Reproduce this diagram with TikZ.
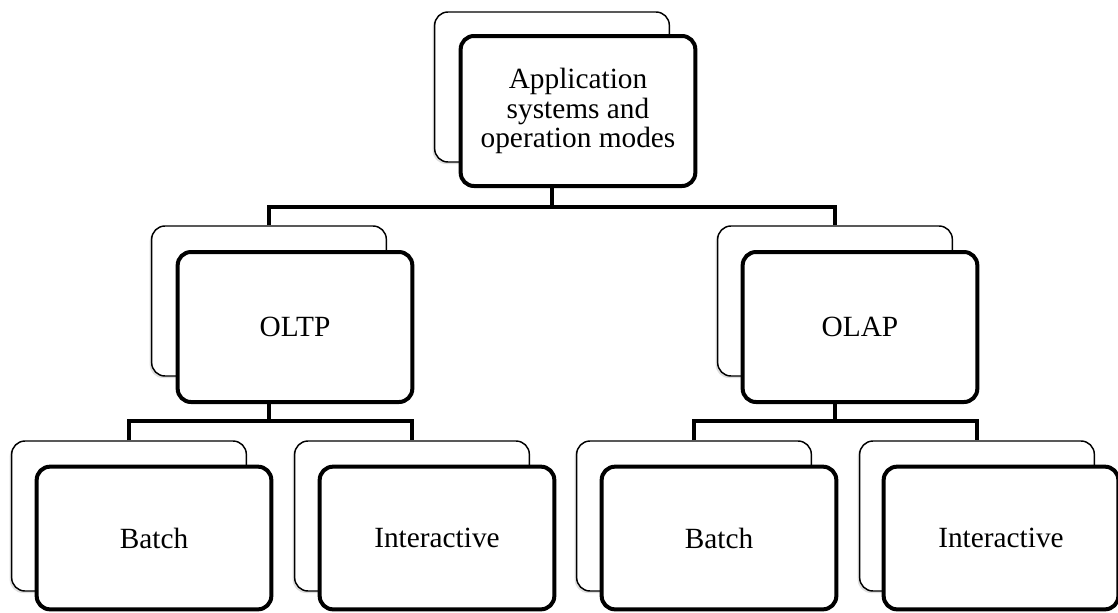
\documentclass[tikz,border=0pt]{standalone}
\usepackage{fontspec}
\setmainfont{Liberation Serif}
\usetikzlibrary{shadows}

\tikzset{
  backbox/.style={draw, line width=1.1pt, rounded corners=10pt, fill=white,
    minimum width=176pt, minimum height=112.5pt,
    drop shadow={shadow xshift=-1.5pt, shadow yshift=-1.5pt, opacity=.25}},
  frontbox/.style={draw, line width=3pt, rounded corners=10pt, fill=white,
    minimum width=176pt, minimum height=112.5pt, align=center,
    font=\fontsize{22}{22}\selectfont},
  leafbox/.style={frontbox, minimum height=107pt},
  link/.style={line width=3pt}
}

\begin{document}
\begin{tikzpicture}[x=0.75pt,y=-0.75pt]
\useasboundingbox (0,0) rectangle (1118,612);
\clip (0,0) rectangle (1118,612);

%Top level
\node [backbox] (topb) at (552,87) {};
\node [frontbox] (topf) at (578,111) {Application\\systems and\\operation modes};

%Second level
\node [backbox] (oltpb) at (269,301) {};
\node [frontbox] (oltpf) at (295,327) {OLTP};
\node [backbox] (olapb) at (835,301) {};
\node [frontbox] (olapf) at (860,327) {OLAP};

%Third level
\node [backbox] (batchlb) at (129,516) {};
\node [leafbox] (batchlf) at (154,538) {Batch};
\node [backbox] (interlb) at (412,516) {};
\node [leafbox] (interlf) at (437,538) {Interactive};
\node [backbox] (batchrb) at (694,516) {};
\node [leafbox] (batchrf) at (719,538) {Batch};
\node [backbox] (interrb) at (977,516) {};
\node [leafbox] (interrf) at (1001,538) {Interactive};

%Bars
\coordinate (bartop) at (552,207);
\coordinate (baroltp) at (269,421);
\coordinate (barolap) at (835,421);

%Connectors
\draw [link] (topb.center |- topf.south) -- (bartop);
\draw [link] (oltpb.north) |- (bartop) -| (olapb.north);
\draw [link] (oltpb.center |- oltpf.south) -- (baroltp);
\draw [link] (batchlb.north) |- (baroltp) -| (interlb.north);
\draw [link] (olapb.center |- olapf.south) -- (barolap);
\draw [link] (batchrb.north) |- (barolap) -| (interrb.north);

\end{tikzpicture}
\end{document}
